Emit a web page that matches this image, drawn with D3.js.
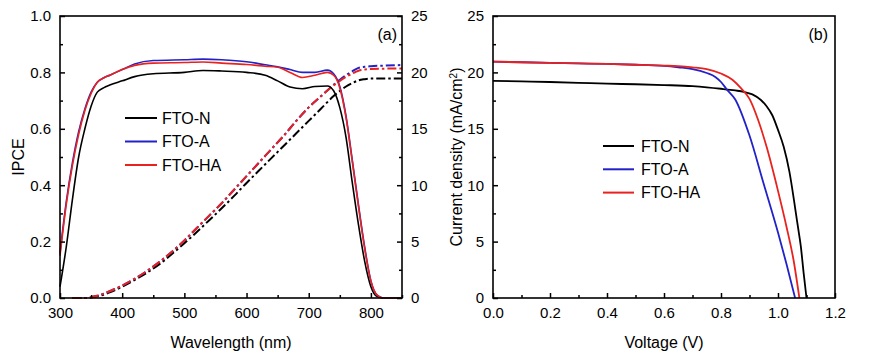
<!DOCTYPE html>
<html>
<head>
<meta charset="utf-8">
<script src="https://cdn.jsdelivr.net/npm/d3@7"></script>
<style>
  body { margin: 0; background: #fff; }
  text { font-family: "Liberation Sans", Arial, sans-serif; fill: #000; }
</style>
</head>
<body>
<svg id="chart" width="869" height="360"></svg>
<script>
// ---- panel (a): IPCE spectra ----
const wl = [300, 310, 320, 330, 340, 350, 360, 370, 380, 400, 420, 450, 500, 530, 560, 600, 630, 650, 670, 690, 710, 730, 740, 750, 760, 770, 780, 790, 800, 810, 820, 850];
const ipceN  = [0.04, 0.18, 0.35, 0.50, 0.60, 0.68, 0.73, 0.745, 0.755, 0.77, 0.785, 0.795, 0.80, 0.807, 0.805, 0.80, 0.79, 0.77, 0.748, 0.742, 0.75, 0.752, 0.735, 0.675, 0.57, 0.41, 0.26, 0.13, 0.04, 0.005, 0, 0];
const ipceA  = [0.16, 0.34, 0.48, 0.59, 0.67, 0.73, 0.765, 0.78, 0.79, 0.81, 0.83, 0.842, 0.845, 0.847, 0.845, 0.838, 0.827, 0.82, 0.81, 0.80, 0.80, 0.808, 0.795, 0.75, 0.645, 0.49, 0.33, 0.18, 0.06, 0.01, 0, 0];
const ipceHA = [0.15, 0.33, 0.47, 0.58, 0.665, 0.725, 0.765, 0.78, 0.79, 0.81, 0.825, 0.833, 0.835, 0.837, 0.833, 0.828, 0.822, 0.818, 0.80, 0.782, 0.79, 0.80, 0.79, 0.745, 0.64, 0.485, 0.325, 0.175, 0.06, 0.01, 0, 0];

// integrated current density (right axis)
const wlInt = [320, 340, 360, 380, 400, 420, 440, 460, 480, 500, 520, 540, 560, 580, 600, 620, 640, 660, 680, 700, 720, 740, 750, 760, 770, 780, 790, 800, 820, 850];
const intN  = [0, 0, 0.15, 0.5, 1.0, 1.6, 2.25, 3.0, 3.9, 4.85, 5.85, 6.9, 7.95, 9.05, 10.2, 11.3, 12.4, 13.5, 14.6, 15.7, 16.8, 17.9, 18.35, 18.75, 19.05, 19.3, 19.4, 19.45, 19.45, 19.45];
const intA  = [0, 0, 0.2, 0.6, 1.1, 1.7, 2.4, 3.2, 4.1, 5.1, 6.2, 7.3, 8.4, 9.6, 10.8, 12.0, 13.2, 14.4, 15.7, 16.9, 17.9, 18.9, 19.35, 19.75, 20.1, 20.4, 20.5, 20.55, 20.6, 20.65];
const intHA = [0, 0, 0.2, 0.6, 1.1, 1.7, 2.4, 3.2, 4.1, 5.1, 6.2, 7.3, 8.4, 9.6, 10.8, 12.0, 13.2, 14.4, 15.7, 16.9, 17.9, 18.85, 19.25, 19.6, 19.9, 20.15, 20.25, 20.3, 20.33, 20.35];

// ---- panel (b): J-V curves ----
const voltN  = [0, 0.1, 0.2, 0.3, 0.4, 0.5, 0.6, 0.7, 0.75, 0.8, 0.85, 0.88, 0.91, 0.94, 0.96, 0.98, 1.0, 1.02, 1.04, 1.06, 1.07, 1.08, 1.09, 1.1];
const jN     = [19.25, 19.2, 19.15, 19.08, 19.0, 18.95, 18.88, 18.78, 18.68, 18.55, 18.4, 18.28, 18.05, 17.55, 17.0, 16.2, 14.9, 13.4, 11.2, 8.0, 6.3, 4.6, 2.2, 0];
const voltA  = [0, 0.1, 0.2, 0.3, 0.4, 0.5, 0.6, 0.65, 0.7, 0.75, 0.78, 0.8, 0.82, 0.85, 0.9, 0.95, 1.0, 1.03, 1.06];
const jA     = [20.95, 20.9, 20.85, 20.8, 20.75, 20.68, 20.57, 20.45, 20.3, 19.95, 19.6, 19.15, 18.5, 17.6, 14.4, 10.1, 5.8, 3.0, 0];
const voltHA = [0, 0.1, 0.2, 0.3, 0.4, 0.5, 0.6, 0.65, 0.7, 0.75, 0.8, 0.84, 0.87, 0.9, 0.93, 0.96, 1.0, 1.03, 1.055, 1.075];
const jHA    = [20.95, 20.9, 20.85, 20.8, 20.75, 20.68, 20.6, 20.55, 20.45, 20.3, 19.9, 19.35, 18.6, 17.65, 15.8, 13.4, 9.5, 6.3, 3.3, 0];

const seriesNames = ["FTO-N", "FTO-A", "FTO-HA"];
const seriesColors = ["#000000", "#2222c8", "#e8221e"];

const ipceTicks = [0, 0.2, 0.4, 0.6, 0.8, 1.0];
const ipceMinor = [0.1, 0.3, 0.5, 0.7, 0.9];
const wlTicks = [300, 400, 500, 600, 700, 800];
const wlMinor = [350, 450, 550, 650, 750, 850];
const jTicks = [0, 5, 10, 15, 20, 25];
const jMinor = [2.5, 7.5, 12.5, 17.5, 22.5];
const vTicks = [0, 0.2, 0.4, 0.6, 0.8, 1.0, 1.2];
const vMinor = [0.1, 0.3, 0.5, 0.7, 0.9, 1.1];

const svg = d3.select("#chart");
svg.append("rect").attr("width", 869).attr("height", 360).attr("fill", "#fff");

const plotTop = 16, plotBottom = 298;
const fontTick = 15, fontLabel = 16;

// draws inward ticks along an axis
function ticksIn(g, scale, major, minor, orient, fmt) {
    const mk = () => (orient === "left" ? d3.axisLeft(scale) : orient === "right" ? d3.axisRight(scale) : d3.axisBottom(scale));
    const ax = mk().tickValues(major).tickSizeInner(-5).tickSizeOuter(0).tickPadding(9).tickFormat(fmt);
    g.call(ax);
    g.select(".domain").remove();
    g.selectAll(".tick line").attr("stroke", "#000").attr("stroke-width", 1.5);
    g.selectAll(".tick text").style("font-size", fontTick + "px").attr("fill", "#000");
    const minAx = mk().tickValues(minor).tickSizeInner(-3).tickSizeOuter(0).tickFormat("");
    const mg = g.append("g").call(minAx);
    mg.select(".domain").remove();
    mg.selectAll(".tick line").attr("stroke", "#000").attr("stroke-width", 1.5);
}

// ================= panel (a) =================
const xA = d3.scaleLinear().domain([300, 850]).range([60, 402]);
const yA = d3.scaleLinear().domain([0, 1]).range([plotBottom, plotTop]);
const yA2 = d3.scaleLinear().domain([0, 25]).range([plotBottom, plotTop]);

const gA = svg.append("g");

const ipceSets = [ipceN, ipceA, ipceHA];
const intSets = [intN, intA, intHA];

const lineIpce = d3.line().x(d => xA(d[0])).y(d => yA(d[1])).curve(d3.curveMonotoneX);
const lineInt = d3.line().x(d => xA(d[0])).y(d => yA2(d[1])).curve(d3.curveMonotoneX);

intSets.forEach((s, i) => {
    gA.append("path")
        .datum(wlInt.map((w, k) => [w, s[k]]))
        .attr("d", lineInt)
        .attr("fill", "none")
        .attr("stroke", seriesColors[i])
        .attr("stroke-width", 2)
        .attr("stroke-dasharray", "9,3,2.5,3");
});

ipceSets.forEach((s, i) => {
    gA.append("path")
        .datum(wl.map((w, k) => [w, s[k]]))
        .attr("d", lineIpce)
        .attr("fill", "none")
        .attr("stroke", seriesColors[i])
        .attr("stroke-width", 1.6);
});

gA.append("g").attr("transform", "translate(60,0)")
    .call(g => ticksIn(g, yA, ipceTicks, ipceMinor, "left", d3.format(".1f")));
gA.append("g").attr("transform", "translate(402,0)")
    .call(g => ticksIn(g, yA2, jTicks, jMinor, "right", d3.format("d")));
gA.append("g").attr("transform", "translate(0," + plotBottom + ")")
    .call(g => ticksIn(g, xA, wlTicks, wlMinor, "bottom", d3.format("d")));

gA.append("rect")
    .attr("x", 60).attr("y", plotTop).attr("width", 342).attr("height", plotBottom - plotTop)
    .attr("fill", "none").attr("stroke", "#000").attr("stroke-width", 1.6);

gA.append("text").attr("x", 231).attr("y", 348).attr("text-anchor", "middle")
    .style("font-size", fontLabel + "px").text("Wavelength (nm)");
gA.append("text").attr("transform", "rotate(-90)").attr("x", -157).attr("y", 24)
    .attr("text-anchor", "middle").style("font-size", fontLabel + "px").text("IPCE");
gA.append("text").attr("x", 397).attr("y", 40).attr("text-anchor", "end")
    .style("font-size", fontLabel + "px").text("(a)");

const legA = gA.append("g");
seriesNames.forEach((n, i) => {
    const yy = 118 + i * 23.5;
    legA.append("line").attr("x1", 125).attr("x2", 157).attr("y1", yy).attr("y2", yy)
        .attr("stroke", seriesColors[i]).attr("stroke-width", 2);
    legA.append("text").attr("x", 162).attr("y", yy + 5.5)
        .style("font-size", fontLabel + "px").text(n);
});

// ================= panel (b) =================
const xB = d3.scaleLinear().domain([0, 1.2]).range([493, 835]);
const yB = d3.scaleLinear().domain([0, 25]).range([plotBottom, plotTop]);
const gB = svg.append("g");

const jvSets = [[voltN, jN], [voltA, jA], [voltHA, jHA]];
const lineJV = d3.line().x(d => xB(d[0])).y(d => yB(d[1])).curve(d3.curveMonotoneX);

jvSets.forEach((s, i) => {
    gB.append("path")
        .datum(s[0].map((v, k) => [v, s[1][k]]))
        .attr("d", lineJV)
        .attr("fill", "none")
        .attr("stroke", seriesColors[i])
        .attr("stroke-width", 1.8);
});

gB.append("g").attr("transform", "translate(493,0)")
    .call(g => ticksIn(g, yB, jTicks, jMinor, "left", d3.format("d")));
gB.append("g").attr("transform", "translate(0," + plotBottom + ")")
    .call(g => ticksIn(g, xB, vTicks, vMinor, "bottom", d3.format(".1f")));

gB.append("rect")
    .attr("x", 493).attr("y", plotTop).attr("width", 342).attr("height", plotBottom - plotTop)
    .attr("fill", "none").attr("stroke", "#000").attr("stroke-width", 1.6);

gB.append("text").attr("x", 664).attr("y", 348).attr("text-anchor", "middle")
    .style("font-size", fontLabel + "px").text("Voltage (V)");
const yl = gB.append("text").attr("transform", "rotate(-90)").attr("x", -157).attr("y", 462)
    .attr("text-anchor", "middle").style("font-size", fontLabel + "px");
yl.append("tspan").text("Current density (mA/cm");
yl.append("tspan").attr("baseline-shift", "super").style("font-size", "10px").text("2");
yl.append("tspan").text(")");
gB.append("text").attr("x", 828).attr("y", 40).attr("text-anchor", "end")
    .style("font-size", fontLabel + "px").text("(b)");

const legB = gB.append("g");
seriesNames.forEach((n, i) => {
    const yy = 146 + i * 23.3;
    legB.append("line").attr("x1", 603).attr("x2", 634).attr("y1", yy).attr("y2", yy)
        .attr("stroke", seriesColors[i]).attr("stroke-width", 2);
    legB.append("text").attr("x", 641).attr("y", yy + 5.5)
        .style("font-size", fontLabel + "px").text(n);
});
</script>
</body>
</html>
